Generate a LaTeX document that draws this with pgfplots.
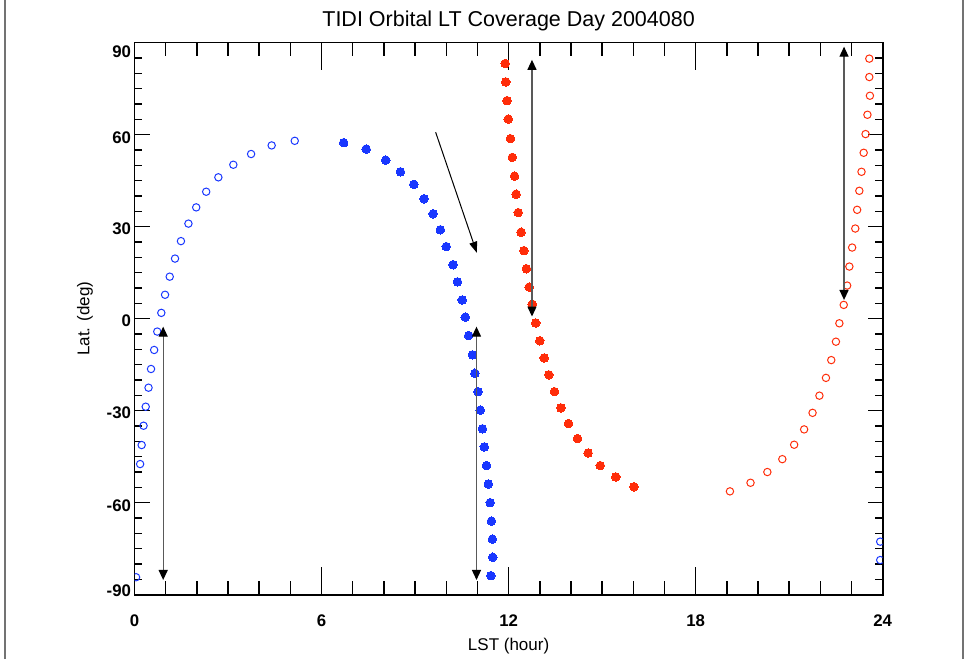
\documentclass[border=0pt]{standalone}
\usepackage{pgfplots}
\pgfplotsset{compat=1.18}
\usepackage{fontspec}
\setmainfont{Liberation Sans}
\usetikzlibrary{arrows.meta}

\definecolor{orbblue}{RGB}{25,55,255}
\definecolor{orbred}{RGB}{255,45,10}

% Ascending-node (open) and descending-node (filled) samples, LST in hours, latitude in degrees
\pgfplotstableread{
lst lat
5.14 58.0
4.40 56.5
3.74 53.7
3.17 50.2
2.69 46.1
2.30 41.4
1.98 36.3
1.73 31.0
1.49 25.3
1.30 19.6
1.13 13.7
0.98 7.8
0.86 1.9
0.73 -4.2
0.63 -10.2
0.53 -16.4
0.45 -22.5
0.36 -28.7
0.29 -34.9
0.23 -41.2
0.18 -47.4
0.05 -84.3
23.92 -72.7
23.92 -78.7
}\blueopen

\pgfplotstableread{
lst lat
6.71 57.4
7.43 55.3
8.06 51.7
8.53 47.9
8.96 43.8
9.29 39.1
9.58 34.2
9.81 29.0
10.00 23.5
10.22 17.6
10.36 12.0
10.51 6.1
10.61 0.5
10.72 -5.5
10.84 -11.8
10.92 -17.8
11.02 -23.8
11.09 -29.8
11.16 -35.9
11.22 -41.8
11.29 -47.9
11.35 -53.9
11.41 -60.0
11.45 -66.0
11.48 -71.9
11.49 -77.8
11.43 -83.8
}\bluefilled

\pgfplotstableread{
lst lat
11.89 83.2
11.91 77.2
11.95 71.1
11.99 65.1
12.06 58.7
12.12 52.6
12.19 46.5
12.24 40.6
12.31 34.6
12.40 28.2
12.49 22.2
12.57 16.3
12.66 10.3
12.76 4.7
12.87 -1.4
13.00 -7.2
13.14 -12.8
13.29 -18.3
13.47 -23.8
13.68 -29.1
13.92 -34.2
14.21 -39.1
14.55 -43.8
14.94 -47.9
15.44 -51.6
16.02 -54.8
}\redfilled

\pgfplotstableread{
lst lat
23.57 84.8
23.57 78.8
23.59 72.7
23.51 66.5
23.45 60.2
23.39 54.1
23.32 47.9
23.25 41.7
23.18 35.5
23.12 29.4
23.02 23.2
22.93 17.0
22.86 10.8
22.75 4.5
22.61 -1.5
22.50 -7.5
22.35 -13.5
22.18 -19.3
21.97 -25.1
21.75 -30.7
21.48 -36.1
21.16 -41.1
20.78 -45.8
20.30 -50.0
19.76 -53.5
19.10 -56.3
}\redopen

\pgfplotsset{
  orbframe/.style={
    at={(134.5pt,64.3pt)}, anchor=south west,
    scale only axis, width=748.2pt, height=552pt,
    xmin=0, xmax=24, ymin=-90, ymax=90,
    tick align=inside,
    axis line style={line width=1.6pt},
    every tick/.style={black, line width=1.5pt},
  },
  ticklab/.style={font=\bfseries\fontsize{16.8}{18}\selectfont},
}
% vertical offset of a tick label: \lab{shift}{text}
\newcommand{\lab}[2]{\raisebox{#1}[12pt][0pt]{#2}}

\begin{document}
\begin{tikzpicture}
\useasboundingbox (0,0) rectangle (964pt,659pt);
% latitude axis: ticks and labels on left and right
\begin{axis}[
  orbframe,
  xtick=\empty,
  ytick={-90,-60,-30,0,30,60,90}, minor y tick num=5,
  major tick length=15pt, minor tick length=7.5pt,
  yticklabels={{\lab{4.7pt}{-90}},{\lab{-3pt}{-60}},{\lab{-2.3pt}{-30}},{\lab{-1.8pt}{0}},{\lab{-2.3pt}{30}},{\lab{-2.6pt}{60}},{\lab{-9pt}{90}}},
  yticklabel style={ticklab},
  ylabel={Lat. (deg)},
  ylabel style={font=\fontsize{17}{19}\selectfont, at={(axis description cs:-0.0662,0.5)}, anchor=center},
]
\end{axis}
% local solar time axis with the orbit samples
\begin{axis}[
  orbframe,
  xtick={0,6,12,18,24}, minor x tick num=5,
  xticklabels={{0},{6},{12},{18},{24}},
  ytick=\empty,
  major tick length=27.5pt, minor tick length=13.5pt,
  xticklabel style={ticklab, yshift=-17pt},
  title={TIDI Orbital LT Coverage Day 2004080},
  title style={font=\fontsize{21.5}{24}\selectfont, at={(axis description cs:0.5,1.0284)}, anchor=center},
  xlabel={LST (hour)},
  xlabel style={font=\fontsize{17}{19}\selectfont, at={(axis description cs:0.5,-0.093)}, anchor=center},
  clip marker paths=true,
]
\addplot[only marks, mark=o, color=orbblue, mark size=3.7pt, mark options={line width=1pt}] table[x=lst,y=lat] {\blueopen};
\addplot[only marks, mark=*, color=orbblue, mark size=4.3pt, mark options={draw=orbblue, fill=orbblue, line width=0pt}] table[x=lst,y=lat] {\bluefilled};
\addplot[only marks, mark=*, color=orbred, mark size=4.3pt, mark options={draw=orbred, fill=orbred, line width=0pt}] table[x=lst,y=lat] {\redfilled};
\addplot[only marks, mark=o, color=orbred, mark size=3.7pt, mark options={line width=1pt}] table[x=lst,y=lat] {\redopen};

% orbit-track arrows
\draw[black!65, line width=1.3pt, {Triangle[length=10pt,width=9pt,color=black]}-{Triangle[length=10pt,width=9pt,color=black]}] (axis cs:0.92,-85.2) -- (axis cs:0.92,-2.6);
\draw[black!65, line width=1.3pt, {Triangle[length=10pt,width=9pt,color=black]}-{Triangle[length=10pt,width=9pt,color=black]}] (axis cs:10.97,-85.2) -- (axis cs:10.97,-2.6);
\draw[black!65, line width=1.3pt, {Triangle[length=10pt,width=9pt,color=black]}-{Triangle[length=10pt,width=9pt,color=black]}] (axis cs:12.75,0.7) -- (axis cs:12.75,84.4);
\draw[black!65, line width=1.3pt, {Triangle[length=10pt,width=9pt,color=black]}-{Triangle[length=10pt,width=9pt,color=black]}] (axis cs:22.76,6.1) -- (axis cs:22.76,88.7);
\draw[black, line width=1pt, -{Triangle[length=11pt,width=8pt]}] (axis cs:9.66,60.8) -- (axis cs:10.98,21.5);
\end{axis}
\draw[black!55, line width=1.5pt] (5pt,0) -- (5pt,659pt);
\draw[black!55, line width=1.5pt] (963pt,0) -- (963pt,659pt);
\end{tikzpicture}
\end{document}
